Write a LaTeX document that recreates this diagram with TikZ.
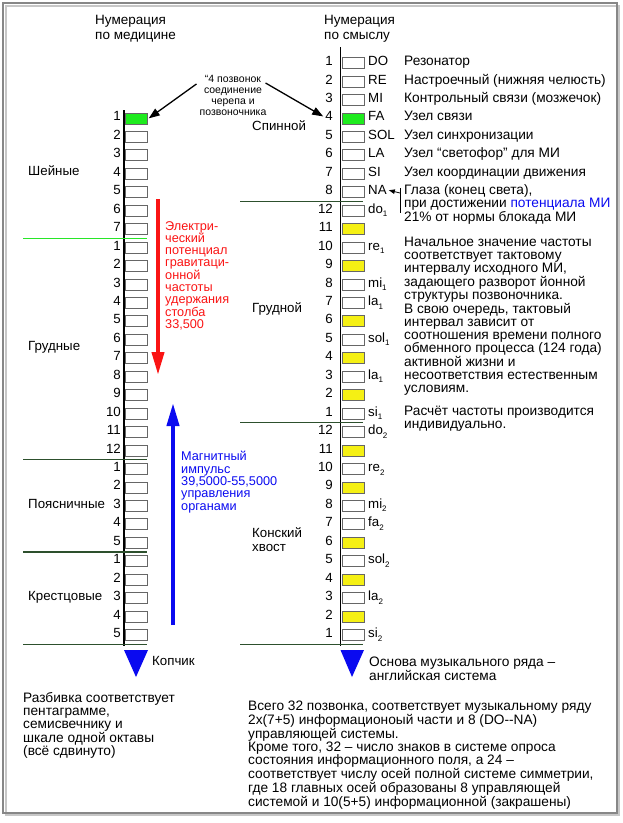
\documentclass[tikz,border=0pt]{standalone}
\usepackage{fontspec}
\setmainfont{Liberation Sans}
\usetikzlibrary{arrows.meta}
\definecolor{sepgreen}{RGB}{45,80,45}
\definecolor{linegreen}{RGB}{40,230,40}
\definecolor{boxgreen}{RGB}{30,235,30}
\definecolor{boxyellow}{RGB}{245,240,20}
\definecolor{potred}{RGB}{250,20,20}
\definecolor{impblue}{RGB}{10,10,240}
\definecolor{framegray}{RGB}{135,135,135}
\newcommand\lowidx[1]{\raisebox{-0.5ex}{\fontsize{8}{8}\selectfont #1}}
\newcommand\fsz[2]{\fontsize{#1}{#2}\selectfont}

\begin{document}
\begin{tikzpicture}[x=1pt,y=-1pt,
    every node/.style={inner sep=0pt,font=\fsz{13.3}{13}},
    vbox/.style={draw=black!60,line width=0.7pt,minimum width=22pt,minimum height=11pt,anchor=west},
    num/.style={anchor=mid east},
    lab/.style={anchor=mid west},
    para/.style={anchor=north west,align=left,font=\fsz{13.7}{13}},
    sep/.style={draw=sepgreen,line width=1.2pt},
    axis/.style={line width=1.4pt},
    ptr/.style={line width=1.3pt,-{Triangle[length=11pt,width=8pt]}},
    bigptr/.style={line width=4pt,-{Triangle[length=23pt,width=12pt]}}]
    \useasboundingbox (0,0) rectangle (622,823);
    \draw[black!22,line width=2.5pt] (6,6) rectangle (619,815);
    \draw[framegray,line width=1.5pt] (3,3) rectangle (617,813);

    % headers
    \node[para,font=\fsz{13.5}{15}] (hmed) at (95,15) {Нумерация\\по медицине};
    \node[para,font=\fsz{13.5}{15}] (hsense) at (324,15) {Нумерация\\по смыслу};

    % spines
    \coordinate (ltop) at (124,110); \coordinate (lbot) at (124,646);
    \coordinate (rtop) at (340.5,47); \coordinate (rbot) at (340.5,646);
    \draw[axis] (ltop) -- (lbot);
    \draw[axis] (rtop) -- (rbot);

    % medical numbering
    \foreach \n/\c [count=\i from 3] in {1/boxgreen,2/white,3/white,4/white,5/white,6/white,7/white,
        1/white,2/white,3/white,4/white,5/white,6/white,7/white,8/white,9/white,10/white,11/white,12/white,
        1/white,2/white,3/white,4/white,5/white,1/white,2/white,3/white,4/white,5/white} {
        \pgfmathsetmacro\yy{63+18.45*\i}
        \node[vbox,fill=\c] (lb\i) at (125,\yy) {};
        \node[num] (ln\i) at (121,\yy) {\n};
    }

    % meaning numbering
    \foreach \n/\nt/\c [count=\k from 0] in {1/DO/white,2/RE/white,3/MI/white,4/FA/boxgreen,
        5/SOL/white,6/LA/white,7/SI/white,8/NA/white,
        12/do\lowidx{1}/white,11//boxyellow,10/re\lowidx{1}/white,9//boxyellow,8/mi\lowidx{1}/white,
        7/la\lowidx{1}/white,6//boxyellow,5/sol\lowidx{1}/white,4//boxyellow,3/la\lowidx{1}/white,
        2//boxyellow,1/si\lowidx{1}/white,
        12/do\lowidx{2}/white,11//boxyellow,10/re\lowidx{2}/white,9//boxyellow,8/mi\lowidx{2}/white,
        7/fa\lowidx{2}/white,6//boxyellow,5/sol\lowidx{2}/white,4//boxyellow,3/la\lowidx{2}/white,
        2//boxyellow,1/si\lowidx{2}/white} {
        \pgfmathsetmacro\yy{63+18.45*\k}
        \node[vbox,fill=\c] (rb\k) at (341.5,\yy) {};
        \node[num] (rn\k) at (333,\yy) {\n};
        \node[lab] (rt\k) at (368,\yy) {\nt};
    }

    % meanings of DO..SI
    \foreach \t [count=\k from 0] in {Резонатор,Настроечный (нижняя челюсть),
        Контрольный связи (мозжечок),Узел связи,Узел синхронизации,
        Узел “светофор” для МИ,Узел координации движения} {
        \pgfmathsetmacro\yy{63+18.45*\k}
        \node[lab,font=\fsz{13.7}{13}] (d\k) at (404,\yy) {\t};
    }
    \node[para,font=\fsz{13.7}{10}] (dna) at (404,184) {Глаза (конец света),\\при достижении \textcolor{impblue}{потенциала МИ}\\21\% от нормы блокада МИ};
    \coordinate (brt) at (400,188); \coordinate (brb) at (400,213);
    \coordinate (brm) at (400,193);
    \draw[line width=0.8pt] (brt) -- (brb);
    \draw[line width=0.8pt,-{Triangle[length=6pt,width=4.5pt]}] (brm) -- ([xshift=2pt]rt7.east);

    % separators
    \draw[draw=linegreen,line width=1.2pt] (23,238.4) -- (147,238.4);
    \draw[sep] (23,459.8) -- (147,459.8);
    \draw[sep] (23,552) -- (147,552);
    \draw[sep] (23,644.5) -- (147,644.5);
    \draw[sep] (240,201.4) -- (363,201.4);
    \draw[sep] (240,422.8) -- (363,422.8);
    \draw[sep] (240,644.5) -- (363,644.5);

    % section names
    \node[lab] (cerv) at (28,173) {Шейные};
    \node[lab] (thor) at (28,348) {Грудные};
    \node[lab] (lumb) at (28,506) {Поясничные};
    \node[lab] (sacr) at (28,598) {Крестцовые};
    \node[lab] (spin) at (252,128) {Спинной};
    \node[lab] (grud) at (252,310) {Грудной};
    \node[para,font=\fsz{13.3}{14}] (tail) at (252,527) {Конский\\хвост};

    % skull joint note
    \node[align=center,anchor=north,font=\fsz{10.5}{11}] (note) at (233,75) {“4 позвонок\\соединение\\черепа и\\позвоночника};
    \draw[ptr] ([shift={(-3,9)}]note.north west) -- ([xshift=1pt]lb3.east);
    \draw[ptr] ([shift={(-1,8)}]note.north east) -- ([xshift=-2pt]rn3.west);

    % potential and impulse
    \coordinate (redtop) at (158,199); \coordinate (redtip) at (158,375);
    \coordinate (bluebot) at (173,625); \coordinate (bluetip) at (173,403);
    \draw[bigptr,potred] (redtop) -- (redtip);
    \draw[bigptr,impblue] (bluebot) -- (bluetip);
    \node[para,text=potred,font=\fsz{12.7}{12.3}] (elpot) at (165,221) {Электри-\\ческий\\потенциал\\гравитаци-\\онной\\частоты\\удержания\\столба\\33,500};
    \node[para,text=impblue,font=\fsz{12.7}{12.4}] (magimp) at (181,451) {Магнитный\\импульс\\39,5000-55,5000\\управления\\органами};

    % frequency text
    \node[para] (freq) at (404,237) {Начальное значение частоты\\соответствует тактовому\\интервалу исходного МИ,\\задающего разворот йонной\\структуры позвоночника.\\В свою очередь, тактовый\\интервал зависит от\\соотношения времени полного\\обменного процесса (124 года)\\активной жизни и\\несоответствия естественным\\условиям.};
    \node[para] (calc) at (404,406) {Расчёт частоты производится\\индивидуально.};

    % ends of spines
    \fill[impblue] (124,650) -- (148,650) -- (136,677) -- cycle;
    \fill[impblue] (340.5,650) -- (364,650) -- (352,677) -- cycle;
    \node[lab] (coccyx) at (152,663) {Копчик};
    \node[para] (base) at (369,657) {Основа музыкального ряда –\\английская система};

    % remarks
    \node[para] (split) at (23,692) {Разбивка соответствует\\пентаграмме,\\семисвечнику и\\шкале одной октавы\\(всё сдвинуто)};
    \node[para] (total) at (248,701) {Всего 32 позвонка, соответствует музыкальному ряду\\2x(7+5) информационоый части и 8 (DO-{}-NA)\\управляющей системы.\\Кроме того, 32 – число знаков в системе опроса\\состояния информационного поля, а 24 –\\соответствует числу осей полной системе симметрии,\\где 18 главных осей образованы 8 управляющей\\системой и 10(5+5) информационной (закрашены)};
\end{tikzpicture}
\end{document}
